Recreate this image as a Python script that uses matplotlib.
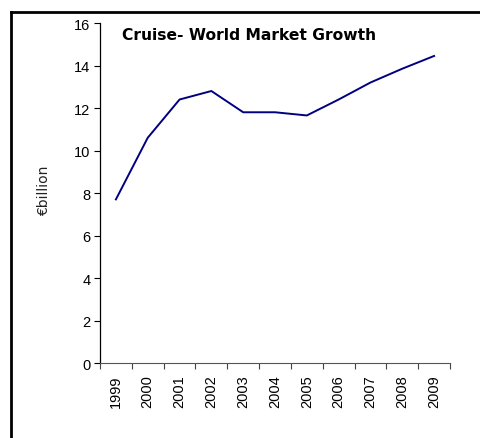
import matplotlib.pyplot as plt
from matplotlib.lines import Line2D
import numpy as np

years = ['1999', '2000', '2001', '2002', '2003', '2004',
         '2005', '2006', '2007', '2008', '2009']
revenue = [7.7, 10.6, 12.4, 12.8, 11.8, 11.8, 11.65, 12.4, 13.2, 13.85, 14.45]

plt.rcParams['font.family'] = ['Liberation Sans', 'DejaVu Sans']

fig = plt.figure(figsize=(4.81, 4.39), dpi=100)
ax = fig.add_axes([0.2079, 0.1708, 0.7277, 0.7745])

x = np.arange(len(years))
ax.plot(x, revenue, color='#000080', lw=1.4)

ax.set_xlim(-0.5, len(years) - 0.5)
ax.set_ylim(0, 16)
ax.set_yticks(range(0, 17, 2))

# excel style: ticks between categories, labels centered
ax.set_xticks(np.arange(-0.5, len(years), 1))
ax.set_xticklabels([])
ax.set_xticks(x, minor=True)
ax.set_xticklabels(years, minor=True, rotation=90, fontsize=10.5)
ax.tick_params(axis='x', which='minor', length=0, pad=8)
ax.tick_params(axis='x', which='major', length=4, width=0.8, color='#444444')
ax.tick_params(axis='y', length=4, width=0.8, labelsize=10.5, pad=3)

for s in ['top', 'right']:
    ax.spines[s].set_visible(False)
ax.spines['left'].set_linewidth(0.9)
ax.spines['bottom'].set_color('#555555')

ax.set_ylabel('€billion', fontsize=10, family='DejaVu Sans', color='#222222')
ax.yaxis.set_label_coords(-0.14, 0.51)
ax.text(0.062, 0.988, 'Cruise- World Market Growth', transform=ax.transAxes,
        fontsize=11.2, fontweight='bold', family='DejaVu Sans', va='top')

# figure border (only top and left edges show)
fig.add_artist(Line2D([11/481, 11/481], [0, 1 - 13/439], color='black', lw=2,
                      transform=fig.transFigure))
fig.add_artist(Line2D([11/481, 1], [1 - 13/439, 1 - 13/439], color='black', lw=2,
                      transform=fig.transFigure))

fig.savefig('out.png', dpi=100)
